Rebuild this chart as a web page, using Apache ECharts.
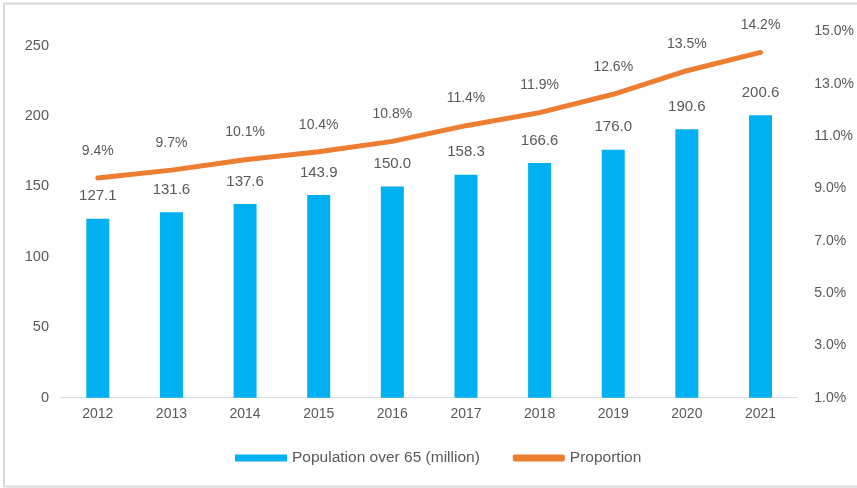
<!DOCTYPE html>
<html>
<head>
<meta charset="utf-8">
<script src="https://cdn.jsdelivr.net/npm/echarts@6/dist/echarts.min.js"></script>
<style>html,body{margin:0;padding:0;background:#fff;}#c{width:857px;height:488px;}</style>
</head>
<body>
<div id="c"></div>
<script>
const years = ['2012','2013','2014','2015','2016','2017','2018','2019','2020','2021'];
const population = [127.1, 131.6, 137.6, 143.9, 150.0, 158.3, 166.6, 176.0, 190.6, 200.6];
const proportion = [9.4, 9.7, 10.1, 10.4, 10.8, 11.4, 11.9, 12.6, 13.5, 14.2];
const leftTicks = [0, 50, 100, 150, 200, 250];
const rightTicks = [1, 3, 5, 7, 9, 11, 13, 15];

const chart = echarts.init(document.getElementById('c'), null, {renderer: 'canvas'});
const grey = '#595959';
const sans = 'Liberation Sans, Arial, sans-serif';
const narrow = 'Liberation Sans Narrow, Liberation Sans, Arial, sans-serif';
chart.setOption({
  backgroundColor: '#fff',
  animation: false,
  graphic: [{
    type: 'rect', shape: {x: 4, y: 3.5, width: 900, height: 483},
    style: {fill: 'none', stroke: '#d9d9d9', lineWidth: 2}, silent: true
  }],
  grid: {left: 61, right: 57, top: 31.5, bottom: 90.3, containLabel: false},
  legend: {
    bottom: 17, left: 230,
    itemWidth: 52, itemHeight: 7, itemGap: 33,
    textStyle: {color: grey, fontSize: 15.5, fontFamily: sans},
    data: [
      {name: 'Population over 65 (million)', icon: 'rect'},
      {name: 'Proportion', icon: 'roundRect', itemStyle: {color: '#ED7D31', opacity: 1}}
    ]
  },
  xAxis: {
    type: 'category', data: years,
    axisLine: {lineStyle: {color: '#d9d9d9', width: 1}},
    axisTick: {show: false},
    axisLabel: {color: grey, fontSize: 14, margin: 9, fontFamily: sans}
  },
  yAxis: [{
    type: 'value', min: 0, max: 260,
    splitLine: {show: false}, axisLine: {show: false}, axisTick: {show: false},
    axisLabel: {color: grey, fontSize: 14.5, margin: 12, customValues: leftTicks, fontFamily: sans}
  }, {
    type: 'value', min: 1, max: 15,
    splitLine: {show: false}, axisLine: {show: false}, axisTick: {show: false},
    axisLabel: {color: grey, fontSize: 14, margin: 17, customValues: rightTicks,
      formatter: v => v.toFixed(1) + '%', fontFamily: narrow}
  }],
  series: [{
    name: 'Population over 65 (million)', type: 'bar', data: population,
    barWidth: 23, itemStyle: {color: '#00B0F0'},
    label: {show: true, position: 'top', distance: 15, color: grey, fontSize: 15,
      fontFamily: sans, formatter: p => p.value.toFixed(1)}
  }, {
    name: 'Proportion', type: 'line', yAxisIndex: 1, data: proportion,
    symbol: 'circle', symbolSize: 0.1, showSymbol: true,
    lineStyle: {color: '#ED7D31', width: 5, cap: 'round'},
    itemStyle: {color: '#ED7D31'},
    label: {show: true, position: 'top', distance: 20, color: grey, fontSize: 14,
      fontFamily: narrow, formatter: p => p.value.toFixed(1) + '%'},
    labelLayout: {hideOverlap: false},
    z: 3
  }]
});
</script>
</body>
</html>
